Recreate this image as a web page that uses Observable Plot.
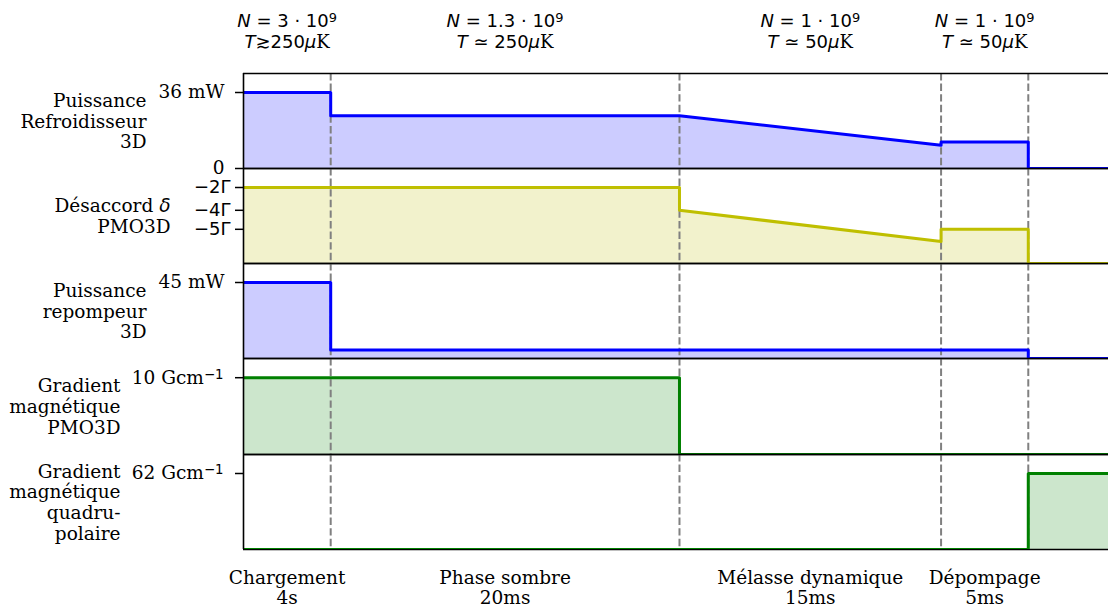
<!DOCTYPE html>
<html>
<head>
<meta charset="utf-8">
<script src="https://cdn.jsdelivr.net/npm/d3@7"></script>
<script src="https://cdn.jsdelivr.net/npm/@observablehq/plot@0.6"></script>
<style>
  body { margin: 0; background: #fff; }
  #chart svg { display: block; overflow: visible; background: transparent; position: relative; }
</style>
</head>
<body>
<div id="chart"></div>
<script>
// ---- Phases of the sequence ----
const phaseBounds = [1, 5, 8, 9];
const phaseCenters = [0.5, 3, 6.5, 8.5];
const phaseNames = ["Chargement", "Phase sombre", "Mélasse dynamique", "Dépompage"];
const phaseDurations = ["4s", "20ms", "15ms", "5ms"];
const atomNumbers = ["3 · 10⁹", "1.3 · 10⁹", "1 · 10⁹", "1 · 10⁹"];
const temperatures = ["≳250μK", " ≃ 250μK", " ≃ 50μK", " ≃ 50μK"];
const timeEnd = 9.92;

// ---- Signals ----
const coolerTime  = [0, 1, 1, 5, 8, 8, 9, 9, 9.92];
const coolerPower = [36, 36, 25, 25, 11, 12.5, 12.5, 0, 0];          // mW
const detuningTime  = [0, 5, 5, 8, 8, 9, 9, 9.92];
const detuningLevel = [1, 1, 0.70, 0.29, 0.45, 0.45, 0, 0];          // relative level
const detuningTicks = [1, 0.70, 0.45];
const detuningTickLabels = ["−2Γ", "−4Γ", "−5Γ"];
const repumpTime  = [0, 1, 1, 9, 9, 9.92];
const repumpPower = [45, 45, 5, 5, 0, 0];                            // mW
const gradMotTime = [0, 5, 5, 9.92];
const gradMot     = [10, 10, 0, 0];                                  // G/cm
const gradQuadTime = [0, 9, 9, 9.92];
const gradQuad     = [0, 0, 62, 62];                                 // G/cm

const panelLabels = [
  "Puissance\nRefroidisseur\n3D",
  "Désaccord δ\nPMO3D",
  "Puissance\nrepompeur\n3D",
  "Gradient\nmagnétique\nPMO3D",
  "Gradient\nmagnétique\nquadru-\npolaire"
];

const panels = [
  {label: panelLabels[0], time: coolerTime, value: coolerPower, max: 36,
   ticks: [0, 36], tickLabels: ["0", "36 mW"], stroke: "#0000ff", fill: "#ccccff",
   labelRight: 146, tickFont: "DejaVu Serif", tickPadding: 11, h: 95, mt: 73},
  {label: panelLabels[1], time: detuningTime, value: detuningLevel, max: 1,
   ticks: detuningTicks, tickLabels: detuningTickLabels, stroke: "#bfbf00", fill: "#f2f2cc",
   labelRight: 170, tickFont: "DejaVu Sans", tickPadding: 5, h: 95},
  {label: panelLabels[2], time: repumpTime, value: repumpPower, max: 45,
   ticks: [45], tickLabels: ["45 mW"], stroke: "#0000ff", fill: "#ccccff",
   labelRight: 146, tickFont: "DejaVu Serif", tickPadding: 11, h: 95},
  {label: panelLabels[3], time: gradMotTime, value: gradMot, max: 10,
   ticks: [10], tickLabels: ["10 Gcm⁻¹"], stroke: "#008000", fill: "#cce6cc",
   labelRight: 120, tickFont: "DejaVu Serif", tickPadding: 12, h: 96},
  {label: panelLabels[4], time: gradQuadTime, value: gradQuad, max: 62,
   ticks: [62], tickLabels: ["62 Gcm⁻¹"], stroke: "#008000", fill: "#cce6cc",
   labelRight: 120, tickFont: "DejaVu Serif", tickPadding: 12, h: 95, mb: 60}
];

const FS = 18.5;
const FSS = 18;
const serif = "DejaVu Serif";
const sans = "DejaVu Sans";

function makePanel(p, i) {
  const data = p.time.map((t, j) => ({t, v: p.value[j]}));
  const mt = p.mt || 0, mb = p.mb || 0;
  const ymax = 1.25 * p.max;
  const labelMap = new Map(p.ticks.map((t, j) => [t, p.tickLabels[j]]));
  const marks = [
    Plot.areaY(data, {x: "t", y1: 0, y2: "v", fill: p.fill}),
    Plot.ruleX(phaseBounds, {stroke: "#808080", strokeWidth: 2, strokeDasharray: "7.4,3.2"}),
    Plot.ruleY([0, ymax], {stroke: "black", strokeWidth: 1.6}),
    Plot.lineY(data, {x: "t", y: "v", stroke: p.stroke, strokeWidth: 3, clip: true}),
    Plot.ruleX([0], {stroke: "black", strokeWidth: 1.6}),
    Plot.axisY({ticks: p.ticks, tickFormat: d => labelMap.get(d), tickSize: 8, label: null,
      tickPadding: p.tickPadding, strokeWidth: 1.5, stroke: "black",
      fontFamily: p.tickFont, fontSize: p.tickFont === sans ? FSS : FS, fill: "black"}),
    Plot.text([p.label], {frameAnchor: "left", dx: -(243 - p.labelRight), textAnchor: "end",
      lineAnchor: "middle", lineHeight: 1.12, fontFamily: serif, fontSize: FS, fill: "black"})
  ];
  if (i === 0) {
    marks.push(Plot.text(phaseCenters, {x: d => d,
      text: (d, k) => `N = ${atomNumbers[k]}\nT${temperatures[k]}`,
      frameAnchor: "top", lineAnchor: "middle", dy: -(mt - 30), lineHeight: 1.17,
      fontFamily: sans, fontSize: FSS, fill: "black"}));
  }
  if (i === panels.length - 1) {
    marks.push(Plot.text(phaseCenters, {x: d => d,
      text: (d, k) => `${phaseNames[k]}\n${phaseDurations[k]}`,
      frameAnchor: "bottom", lineAnchor: "middle", dy: 38, lineHeight: 1.1,
      fontFamily: serif, fontSize: FS, fill: "black"}));
  }
  return Plot.plot({
    width: 1108,
    height: p.h + mt + mb,
    marginLeft: 243, marginRight: 0, marginTop: mt, marginBottom: mb,
    x: {domain: [0, timeEnd], axis: null},
    y: {domain: [0, ymax], axis: null},
    style: {background: "transparent", color: "black", overflow: "visible"},
    marks
  });
}

function richify(svg) {
  d3.select(svg).selectAll("text, tspan").each(function () {
    if (this.childElementCount) return;
    let s = this.textContent;
    if (!/[NTμ⁹⁻δ]/.test(s)) return;
    const esc = s.replace(/&/g, "&amp;").replace(/</g, "&lt;");
    let h = esc
      .replace(/^N /, '<tspan font-style="italic">N</tspan> ')
      .replace(/^T/, '<tspan font-style="italic">T</tspan>')
      .replace(/μK/, '<tspan font-style="italic">μ</tspan><tspan font-family="DejaVu Serif">K</tspan>')
      .replace(/δ/, '<tspan font-style="italic" font-family="DejaVu Sans">δ</tspan>')
      .replace(/⁹/, '<tspan baseline-shift="38%" font-size="0.72em">9</tspan>')
      .replace(/⁻¹/, '<tspan baseline-shift="38%" font-size="0.72em" font-family="DejaVu Sans">−1</tspan>');
    if (h !== esc) this.innerHTML = h;
  });
}

const root = document.getElementById("chart");
panels.forEach((p, i) => {
  const svg = makePanel(p, i);
  richify(svg);
  root.appendChild(svg);
});
</script>
</body>
</html>
